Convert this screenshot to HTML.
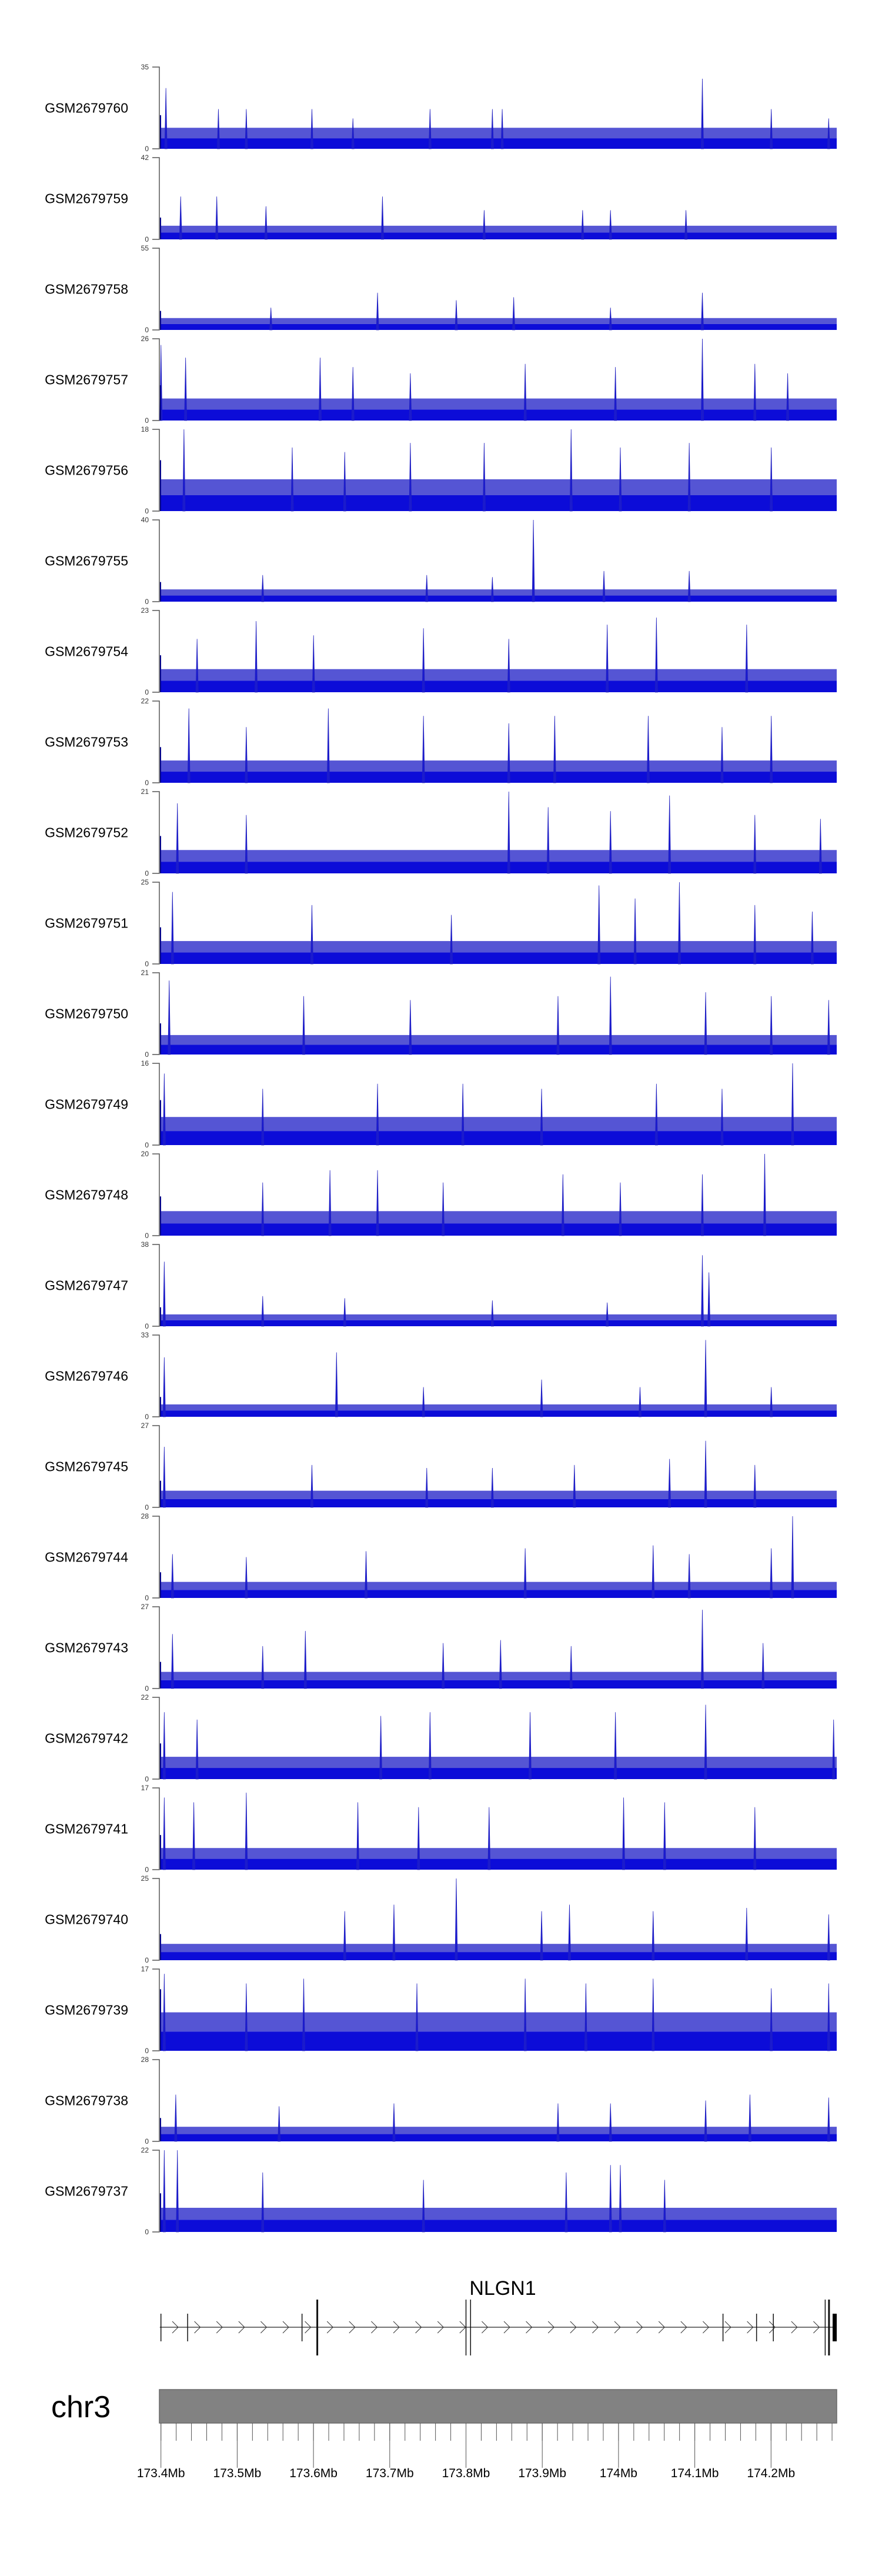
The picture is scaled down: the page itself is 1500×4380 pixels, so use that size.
<!DOCTYPE html>
<html><head><meta charset="utf-8"><style>
html,body{margin:0;padding:0;background:#fff;}
svg{display:block;font-family:"Liberation Sans",sans-serif;}
</style></head><body>
<svg id="chart" width="1500" height="4380" viewBox="0 0 1500 4380" xmlns="http://www.w3.org/2000/svg"></svg>
<script>
// ---- data ----
const samples = ["GSM2679760","GSM2679759","GSM2679758","GSM2679757","GSM2679756","GSM2679755","GSM2679754","GSM2679753","GSM2679752","GSM2679751","GSM2679750","GSM2679749","GSM2679748","GSM2679747","GSM2679746","GSM2679745","GSM2679744","GSM2679743","GSM2679742","GSM2679741","GSM2679740","GSM2679739","GSM2679738","GSM2679737"];
const maxima = [35,42,55,26,18,40,23,22,21,25,21,16,20,38,33,27,28,27,22,17,25,17,28,22];
const bandLevels = [9,7,8,7,7,6,6.5,6,6,7,5,5.5,6,5.5,5,5.5,5.5,5.5,6,4.5,5,8,5,6.5];
const spikeCols = [
 [101,133,150,190,215,262,300,306,428,470,505],
 [110,132,162,233,295,355,372,418],
 [165,230,278,313,372,428],
 [98,113,195,215,250,320,375,428,460,480],
 [112,178,210,250,295,348,378,420,470],
 [160,260,300,325,368,420],
 [120,156,191,258,310,370,400,455],
 [115,150,200,258,310,338,395,440,470],
 [108,150,310,334,372,408,460,500],
 [105,190,275,365,387,414,460,495],
 [103,185,250,340,372,430,470,505],
 [100,160,230,282,330,400,440,483],
 [160,201,230,270,343,378,428,466],
 [100,160,210,300,370,428,432],
 [100,205,258,330,390,430,470],
 [100,190,260,300,350,408,430,460],
 [105,150,223,320,398,420,470,483],
 [105,160,186,270,305,348,428,465],
 [100,120,232,262,323,375,430,508],
 [100,118,150,218,255,298,380,405,460],
 [210,240,278,330,347,398,455,505],
 [100,150,185,254,320,357,398,470,505],
 [107,170,240,340,372,430,457,505],
 [100,108,160,258,345,372,378,405]
];
const spikeVals = [
 [26,17,17,17,13,17,17,17,30,17,13],
 [22,22,17,22,15,15,15,15],
 [15,25,20,22,15,25],
 [24,20,20,17,15,18,17,26,18,15],
 [18,14,13,15,15,18,14,15,14],
 [13,13,12,40,15,15],
 [15,20,16,18,15,19,21,19],
 [20,15,20,18,16,18,18,15,18],
 [18,15,21,17,16,20,15,14],
 [22,18,15,24,20,25,18,16],
 [19,15,14,15,20,16,15,14],
 [14,11,12,12,11,12,11,16],
 [13,16,16,13,15,13,15,20],
 [30,14,13,12,11,33,25],
 [24,26,12,15,12,31,12],
 [20,14,13,13,14,16,22,14],
 [15,14,16,17,18,15,17,28],
 [18,14,19,15,16,14,26,15],
 [18,16,17,18,18,18,20,16],
 [15,14,16,14,13,13,15,14,13],
 [15,17,25,15,17,15,16,14],
 [16,14,15,14,15,14,15,13,14],
 [16,12,13,13,13,14,16,15],
 [22,22,16,14,16,18,18,14]
];
const tickLabels = ["173.4Mb","173.5Mb","173.6Mb","173.7Mb","173.8Mb","173.9Mb","174Mb","174.1Mb","174.2Mb"];
const tickValues = [173.4,173.5,173.6,173.7,173.8,173.9,174.0,174.1,174.2];
const exonPos = [173.4,173.435,173.585,174.137,174.181,174.203];
const tallExonPos = [173.605,173.800,173.806,174.271,174.276];
const geneStart = 173.3985, geneEnd = 174.2855;

// ---- layout / scales ----
const NS = "http://www.w3.org/2000/svg";
const svg = document.getElementById('chart');
const PX_PER_MB = 1297, X_REF = 273.7;
const xScale = mb => X_REF + (mb - 173.4) * PX_PER_MB;
const X0 = 272, X1 = 1423;
const colToMb = c => 173.4 + (271 + (c - 97) * 2.79 - X_REF) / PX_PER_MB;
function el(tag, attrs, parent){ const e=document.createElementNS(NS,tag); for(const k in attrs) e.setAttribute(k,attrs[k]); (parent||svg).appendChild(e); return e; }

const TOP0 = 114, TH = 139, STEP = 154;
samples.forEach((name, i) => {
  const top = TOP0 + i*STEP, base = top + TH, mx = maxima[i];
  const y = v => base - v / mx * TH;
  const g = el('g', {});
  
  
  const lab = el('text', {x:218, y:top+TH/2+8, 'font-size':23, 'text-anchor':'end', fill:'#000'}, g);
  lab.textContent = name;
  
  
  const ax = el('path', {d:`M259 ${top}H271V${base}H259`, stroke:'#555', fill:'none', 'stroke-width':1.5}, g);
  
  
  const tmax = el('text', {x:253, y:top+4, 'font-size':12, 'text-anchor':'end', fill:'#333'}, g);
  tmax.textContent = mx;
  
  
  const tmin = el('text', {x:253, y:base+4, 'font-size':12, 'text-anchor':'end', fill:'#333'}, g);
  tmin.textContent = '0';
  
  
  const b = bandLevels[i];
  const r1 = el('rect', {x:X0, y:y(b*0.5), width:X1-X0, height:base-y(b*0.5), fill:'#0c0cd8'}, g);
  
  
  const r2 = el('rect', {x:X0, y:y(b), width:X1-X0, height:y(b*0.5)-y(b), fill:'#1414c4', opacity:0.72}, g);
  
  
  spikeCols[i].forEach((c, j) => {
    const xx = xScale(colToMb(c));
    const s = el('path', {d:`M${xx-2} ${base}L${xx} ${y(spikeVals[i][j])}L${xx+2} ${base}Z`, fill:'#1a1ad0', stroke:'#2020c0', 'stroke-width':0.8}, g);
    
    
  });
  const e0 = el('line', {x1:X0+1, x2:X0+1, y1:base, y2:y(b*1.6), stroke:'#00008b', 'stroke-width':2}, g);
  
  
});

// ---- gene track ----
const gg = el('g', {});


const gl = el('text', {x:855, y:3902, 'font-size':34, 'text-anchor':'middle', fill:'#000'}, gg);
gl.textContent = 'NLGN1';


const gline = el('line', {x1:xScale(geneStart), x2:xScale(geneEnd), y1:3957, y2:3957, stroke:'#222', 'stroke-width':1.2}, gg);


for (let cx = 293; cx < 1405; cx += 37.6) {
  const ch = el('path', {d:`M${cx} 3947L${cx+10} 3957L${cx} 3967`, stroke:'#333', fill:'none', 'stroke-width':1}, gg);
  
  
}
exonPos.forEach(p => {
  const l = el('line', {x1:xScale(p), x2:xScale(p), y1:3934, y2:3981, stroke:'#111', 'stroke-width':1.5}, gg);
  
  
});
tallExonPos.forEach((p, k) => {
  const l = el('line', {x1:xScale(p), x2:xScale(p), y1:3910, y2:4005, stroke:'#111', 'stroke-width':(k===0||k===4)?3:1.5}, gg);
  
  
});
const utr = el('rect', {x:1416, y:3934, width:7, height:47, fill:'#000'}, gg);



// ---- ideogram / axis ----
const ag = el('g', {});


const chr = el('text', {x:87, y:4110, 'font-size':52, fill:'#000'}, ag);
chr.textContent = 'chr3';


const bar = el('rect', {x:271, y:4063, width:1152, height:57, fill:'#828282', stroke:'#6a6a6a', 'stroke-width':1.5}, ag);


for (let k = 0; k <= 44; k++) {
  const mb = 173.4 + k*0.02;
  if (xScale(mb) > 1423) break;
  const t = el('line', {x1:xScale(mb), x2:xScale(mb), y1:4120, y2:4150, stroke:'#555', 'stroke-width':1}, ag);
  
  
}
tickValues.forEach((v, k) => {
  const xx = xScale(v);
  const t = el('line', {x1:xx, x2:xx, y1:4120, y2:4196, stroke:'#555', 'stroke-width':1}, ag);
  
  
  const tl = el('text', {x:xx, y:4212, 'font-size':21, 'text-anchor':'middle', fill:'#000'}, ag);
  tl.textContent = tickLabels[k];
  
  
});
</script>
</body></html>
